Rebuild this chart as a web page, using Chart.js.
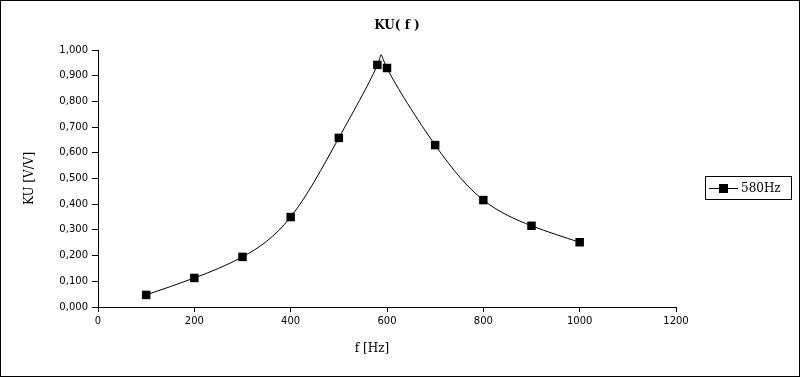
<!DOCTYPE html>
<html><head><meta charset="utf-8">
<script src="https://cdn.jsdelivr.net/npm/chart.js@4/dist/chart.umd.min.js"></script>
<style>html,body{margin:0;padding:0;background:#fff}#wrap{width:800px;height:377px;position:relative}</style>
</head><body><div id="wrap"><canvas id="c" width="800" height="377"></canvas></div>
<script>
const freqs = [100, 200, 300, 400, 500, 580, 600, 700, 800, 900, 1000];
const ku = [0.047, 0.113, 0.195, 0.350, 0.658, 0.942, 0.930, 0.630, 0.416, 0.316, 0.252];
const seriesName = '580Hz';
const chartTitle = 'KU( f )';
const xTitle = 'f [Hz]';
const yTitle = 'KU [V/V]';

// parametric natural cubic spline (uniform parameter) -> Bezier control points
function naturalDerivs(v) {
  const n = v.length;
  const a = new Array(n).fill(0), b = new Array(n).fill(1), c = new Array(n).fill(0), d = new Array(n).fill(0);
  for (let i = 1; i < n - 1; i++) { a[i] = 1; b[i] = 4; c[i] = 1; d[i] = 6 * (v[i + 1] - 2 * v[i] + v[i - 1]); }
  const cp = new Array(n).fill(0), dp = new Array(n).fill(0);
  cp[0] = c[0] / b[0]; dp[0] = d[0] / b[0];
  for (let i = 1; i < n; i++) { const m = b[i] - a[i] * cp[i - 1]; cp[i] = c[i] / m; dp[i] = (d[i] - a[i] * dp[i - 1]) / m; }
  const M = new Array(n).fill(0);
  M[n - 1] = dp[n - 1];
  for (let i = n - 2; i >= 0; i--) M[i] = dp[i] - cp[i] * M[i + 1];
  const D = new Array(n).fill(0);
  for (let i = 0; i < n - 1; i++) D[i] = (v[i + 1] - v[i]) - (2 * M[i] + M[i + 1]) / 6;
  D[n - 1] = (v[n - 1] - v[n - 2]) + (M[n - 2] + 2 * M[n - 1]) / 6;
  return D;
}
const spline = {
  id: 'spline',
  beforeDatasetDraw(chart, args) {
    const line = args.meta.dataset, pts = args.meta.data;
    if (!line || pts.length < 3) return;
    line.updateControlPoints(chart.chartArea, 'x');
    const dx = naturalDerivs(pts.map(p => p.x)), dy = naturalDerivs(pts.map(p => p.y));
    pts.forEach((p, i) => {
      p.cp1x = p.x - dx[i] / 3; p.cp1y = p.y - dy[i] / 3;
      p.cp2x = p.x + dx[i] / 3; p.cp2y = p.y + dy[i] / 3;
    });
  }
};

const decor = {
  id: 'decor',
  afterDraw(chart) {
    const ctx = chart.ctx;
    ctx.save();
    ctx.strokeStyle = '#000'; ctx.lineWidth = 1;
    ctx.strokeRect(0.5, 0.5, 799, 376);
    ctx.fillStyle = '#000';
    ctx.font = 'bold 12px "DejaVu Serif"';
    ctx.textAlign = 'center'; ctx.textBaseline = 'middle';
    ctx.fillText(chartTitle, 397, 26);
    ctx.font = '12px "DejaVu Serif"';
    ctx.fillText(xTitle, 372, 349);
    ctx.strokeRect(705.5, 176.5, 86, 23);
    ctx.beginPath(); ctx.moveTo(709, 188.5); ctx.lineTo(738, 188.5); ctx.stroke();
    ctx.fillRect(719, 184, 9, 9);
    ctx.textAlign = 'left';
    ctx.fillText(seriesName, 741, 189);
    ctx.restore();
  }
};

new Chart(document.getElementById('c'), {
  type: 'line',
  data: {
    datasets: [{
      label: seriesName,
      data: freqs.map((f, i) => ({x: f, y: ku[i]})),
      borderColor: '#000', backgroundColor: '#000', borderWidth: 1,
      pointStyle: 'rect', pointRadius: 6, pointBorderWidth: 0,
      tension: 0.4, fill: false
    }]
  },
  options: {
    responsive: false, animation: false, devicePixelRatio: 1,
    layout: {padding: {left: 0, top: 50, right: 124, bottom: 0}},
    plugins: {legend: {display: false}, title: {display: false}, tooltip: {enabled: false}},
    scales: {
      x: {
        type: 'linear', min: 0, max: 1200,
        ticks: {stepSize: 200, color: '#000', font: {family: 'DejaVu Sans', size: 10}, padding: 3, maxRotation: 0,
          callback: v => String(v)},
        grid: {drawOnChartArea: false, drawTicks: true, tickLength: 5, color: '#000'},
        border: {color: '#000', width: 1},
        title: {display: false},
        afterFit(s) { s.height = 70; }
      },
      y: {
        type: 'linear', min: 0, max: 1,
        ticks: {stepSize: 0.1, color: '#000', font: {family: 'DejaVu Sans', size: 10}, padding: 4,
          callback: v => v.toFixed(3).replace('.', ',')},
        grid: {drawOnChartArea: false, drawTicks: true, tickLength: 6, color: '#000'},
        border: {color: '#000', width: 1},
        title: {display: true, text: yTitle, color: '#000', font: {family: 'DejaVu Serif', size: 12}, padding: {top: 23}},
        afterFit(s) { s.width = 98; }
      }
    }
  },
  plugins: [spline, decor]
});
</script></body></html>
